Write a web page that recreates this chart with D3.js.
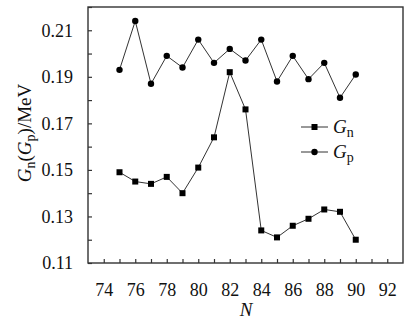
<!DOCTYPE html>
<html><head><meta charset="utf-8">
<script src="https://cdn.jsdelivr.net/npm/d3@7"></script>
<style>body{margin:0;background:#fff}svg{display:block}svg text{font-family:"Liberation Serif","Times New Roman",serif !important;fill:#111}</style>
</head><body><svg id="c" width="412" height="322"></svg>
<script>
const N = [75,76,77,78,79,80,81,82,83,84,85,86,87,88,89,90];
const Gn = [0.149,0.145,0.144,0.147,0.140,0.151,0.164,0.192,0.176,0.124,0.121,0.126,0.129,0.133,0.132,0.120];
const Gp = [0.193,0.214,0.187,0.199,0.194,0.206,0.196,0.202,0.197,0.206,0.188,0.199,0.189,0.196,0.181,0.191];
const xTicks = [74,76,78,80,82,84,86,88,90,92];
const yTicks = [0.11,0.13,0.15,0.17,0.19,0.21];

const svg = d3.select("#c");
const L=88,R=403,T=7,B=263;
const x = d3.scaleLinear().domain([73,93]).range([L,R]);
const y = d3.scaleLinear().domain([0.11,0.22]).range([B,T]);
const fs = 18;

// frame
svg.append("rect").attr("x",L).attr("y",T).attr("width",R-L).attr("height",B-T)
  .attr("fill","none").attr("stroke","#333").attr("stroke-width",1.4);

// x axis
const xa = svg.append("g").attr("transform",`translate(0,${B})`)
  .call(d3.axisBottom(x).tickValues(d3.range(74,93,1)).tickSizeInner(-4).tickSizeOuter(0).tickFormat(d=>xTicks.includes(d)?d:""));
xa.select(".domain").remove();
xa.selectAll(".tick line").attr("stroke","#333").attr("stroke-width",1.2);
xa.selectAll(".tick text").attr("y",33).attr("dy","0").style("font-size",fs+"px").attr("fill","#111");

// y axis
const ya = svg.append("g").attr("transform",`translate(${L},0)`)
  .call(d3.axisLeft(y).tickValues(d3.range(11,23,1).map(v=>v/100)).tickSizeInner(-4).tickSizeOuter(0)
  .tickFormat(d=>yTicks.some(t=>Math.abs(t-d)<1e-9)?d3.format(".2f")(d):""));
ya.select(".domain").remove();
ya.selectAll(".tick line").attr("stroke","#333").attr("stroke-width",1.2);
ya.selectAll(".tick text").attr("x",-15).style("font-size",fs+"px").attr("fill","#111");

// lines
const lineGen = arr => d3.line().x((d,i)=>x(N[i])).y(d=>y(d))(arr);
svg.append("path").attr("d",lineGen(Gn)).attr("fill","none").attr("stroke","#333").attr("stroke-width",1);
svg.append("path").attr("d",lineGen(Gp)).attr("fill","none").attr("stroke","#333").attr("stroke-width",1);
svg.selectAll(".sq").data(Gn).enter().append("rect")
  .attr("x",(d,i)=>x(N[i])-3).attr("y",d=>y(d)-3).attr("width",6).attr("height",6).attr("fill","#000");
svg.selectAll(".ci").data(Gp).enter().append("circle")
  .attr("cx",(d,i)=>x(N[i])).attr("cy",d=>y(d)).attr("r",3.2).attr("fill","#000");

// legend
const lg = svg.append("g");
const rows = [{ly:127,sym:"sq",sub:"n"},{ly:152,sym:"ci",sub:"p"}];
rows.forEach(r=>{
  lg.append("line").attr("x1",301).attr("x2",328).attr("y1",r.ly).attr("y2",r.ly).attr("stroke","#333").attr("stroke-width",1);
  if(r.sym==="sq") lg.append("rect").attr("x",311.5).attr("y",r.ly-3).attr("width",6).attr("height",6).attr("fill","#000");
  else lg.append("circle").attr("cx",314.5).attr("cy",r.ly).attr("r",3.2).attr("fill","#000");
  const t = lg.append("text").attr("x",333).attr("y",r.ly+6).style("font-size","19px");
  t.append("tspan").text("G").style("font-style","italic");
  t.append("tspan").text(r.sub).attr("dy",4).style("font-size","14px");
});

// axis titles
svg.append("text").attr("x",246).attr("y",316).attr("text-anchor","middle")
  .style("font-size","19px").style("font-style","italic").text("N");

const yt = svg.append("text").attr("transform",`translate(31,133) rotate(-90)`).attr("text-anchor","middle").style("font-size","19px");
yt.append("tspan").text("G").style("font-style","italic");
yt.append("tspan").text("n").attr("dy",4).style("font-size","14px");
yt.append("tspan").text("(").attr("dy",-4);
yt.append("tspan").text("G").style("font-style","italic");
yt.append("tspan").text("p").attr("dy",4).style("font-size","14px");
yt.append("tspan").text(")/MeV").attr("dy",-4);
</script></body></html>
